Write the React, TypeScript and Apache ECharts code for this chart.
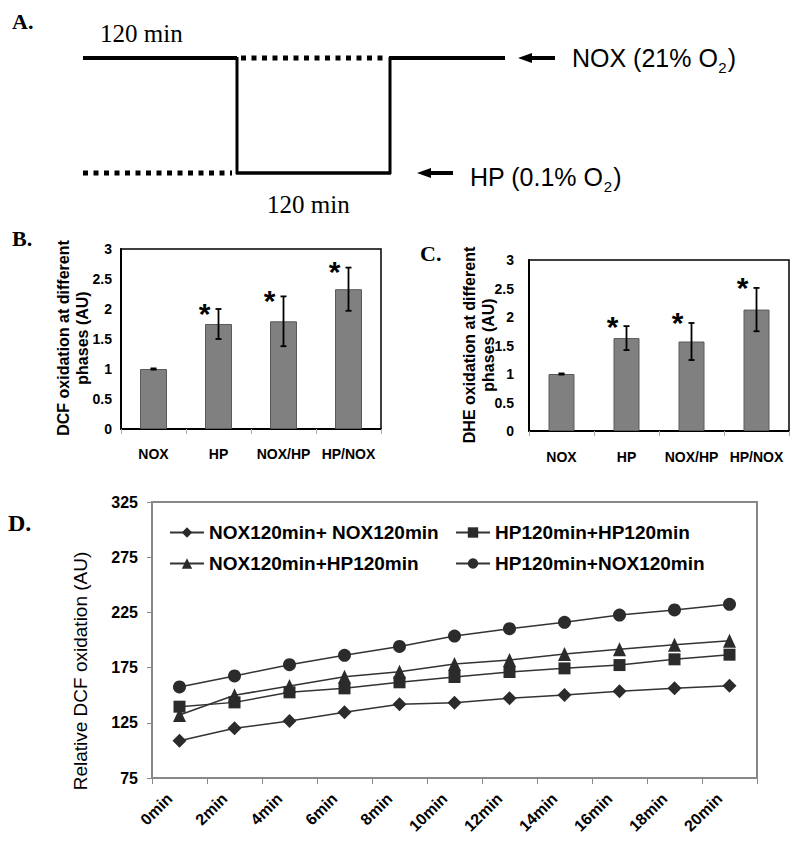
import React, { useEffect, useRef } from "react";
import * as echarts from "echarts";

// ---------- data ----------
const phaseCategories = ["NOX", "HP", "NOX/HP", "HP/NOX"];
const dcfMeans = [1.0, 1.75, 1.795, 2.33];
const dcfErrors = [0.01, 0.25, 0.415, 0.36];
const dheMeans = [1.0, 1.63, 1.57, 2.13];
const dheErrors = [0.01, 0.21, 0.325, 0.38];
const significant = [false, true, true, true];

const timeCategories = ["0min", "2min", "4min", "6min", "8min", "10min", "12min", "14min", "16min", "18min", "20min"];
const seriesNames = ["NOX120min+ NOX120min", "HP120min+HP120min", "NOX120min+HP120min", "HP120min+NOX120min"];
const noxNox = [108.7, 120, 126.6, 134.5, 141.8, 143.2, 147.2, 150.2, 153.5, 156.2, 158.6];
const hpHp = [139.6, 143.5, 152.6, 156.2, 161.7, 166.5, 171, 174.3, 177.3, 182.5, 186.7];
const noxHp = [132, 150, 158.3, 166.8, 171.3, 178.3, 181.9, 187.3, 191.6, 195.8, 199.4];
const hpNox = [157.5, 167.4, 177.6, 186.1, 194.2, 203.6, 210.2, 216, 222.6, 227.2, 232.3];

const SANS = '"Liberation Sans", Arial, sans-serif';
const SERIF = '"Liberation Serif", "Times New Roman", serif';

function measure(text: string, font: string): number {
  const c = document.createElement("canvas");
  const ctx = c.getContext("2d");
  if (!ctx) return text.length * 12;
  ctx.font = font;
  return ctx.measureText(text).width;
}

function txt(x: number, y: number, text: string, opts: any = {}) {
  return {
    type: "text",
    x,
    y,
    rotation: opts.rotation || 0,
    z: 100,
    style: {
      text,
      x: 0,
      y: 0,
      fontSize: opts.fontSize || 14,
      fontWeight: opts.fontWeight || "normal",
      fontFamily: opts.fontFamily || SANS,
      fill: "#000",
      align: opts.align || "left",
      textAlign: opts.align || "left",
      verticalAlign: "middle",
      textVerticalAlign: "middle",
      lineHeight: opts.lineHeight,
    },
  };
}

function seg(x1: number, y1: number, x2: number, y2: number, lw: number, dash?: number[]) {
  return {
    type: "line",
    z: 100,
    shape: { x1, y1, x2, y2 },
    style: { stroke: "#000", lineWidth: lw, lineDash: dash || null, lineCap: "butt" },
  };
}

function subLabel(x: number, y: number, main: string, sub: string, tail: string) {
  const f1 = `25px ${SANS}`;
  const f2 = `15px ${SANS}`;
  const w1 = measure(main, f1);
  const w2 = measure(sub, f2);
  return [
    txt(x, y, main, { fontSize: 25 }),
    txt(x + w1 + 0.5, y + 9, sub, { fontSize: 15 }),
    txt(x + w1 + w2 + 1.5, y, tail, { fontSize: 25 }),
  ];
}

function errorSeries(idx: number, means: number[], errs: number[], starDy: number) {
  return {
    type: "custom",
    xAxisIndex: idx,
    yAxisIndex: idx,
    z: 10,
    silent: true,
    data: means.map((m, i) => [i, m - errs[i], m + errs[i], significant[i] ? 1 : 0]),
    encode: { x: 0, y: [1, 2] },
    renderItem: (params: any, api: any) => {
      const xi = api.value(0);
      const lo = api.coord([xi, api.value(1)]);
      const hi = api.coord([xi, api.value(2)]);
      const cap = 3;
      const children: any[] = [
        { type: "line", shape: { x1: lo[0], y1: lo[1], x2: hi[0], y2: hi[1] }, style: { stroke: "#000", lineWidth: 1.8 } },
        { type: "line", shape: { x1: lo[0] - cap, y1: lo[1], x2: lo[0] + cap, y2: lo[1] }, style: { stroke: "#000", lineWidth: 1.8 } },
        { type: "line", shape: { x1: hi[0] - cap, y1: hi[1], x2: hi[0] + cap, y2: hi[1] }, style: { stroke: "#000", lineWidth: 1.8 } },
      ];
      if (api.value(3)) {
        children.push({
          type: "text",
          style: {
            text: "*",
            x: hi[0] - 14,
            y: hi[1] + starDy,
            fontSize: 30,
            fontWeight: "bold",
            fontFamily: SANS,
            fill: "#000",
            align: "center",
            verticalAlign: "middle",
          },
        });
      }
      return { type: "group", children };
    },
  };
}

function barAxes(idx: number, labelMargin: number, yMargin: number) {
  const x = {
    type: "category",
    gridIndex: idx,
    data: phaseCategories,
    axisLine: { show: true, lineStyle: { color: "#000", width: 2 } },
    axisTick: { show: true, length: 5, lineStyle: { color: "#aaa", width: 1 } },
    axisLabel: {
      interval: 0, hideOverlap: false, margin: labelMargin, fontSize: 14, fontWeight: "bold", color: "#000", fontFamily: SANS,
    },
    splitLine: { show: false },
  };
  const y = {
    type: "value",
    gridIndex: idx,
    min: 0,
    max: 3,
    interval: 0.5,
    axisLine: { show: true, lineStyle: { color: "#000", width: 2 } },
    axisTick: { show: false },
    splitLine: { show: false },
    axisLabel: { margin: yMargin, fontSize: 14, fontWeight: "bold", color: "#000", fontFamily: SANS },
  };
  return { x, y };
}

export default function App() {
  const ref = useRef<HTMLDivElement>(null);

  useEffect(() => {
    if (!ref.current) return;
    const chart = echarts.init(ref.current, null, { renderer: "svg" });

    const bAx = barAxes(0, 18, 9);
    const cAx = barAxes(1, 19, 15);

    const lineColor = "#2b2b2b";
    const mk = (name: string, data: number[], symbol: string, size: any) => ({
      type: "line",
      name,
      xAxisIndex: 2,
      yAxisIndex: 2,
      data,
      symbol,
      symbolSize: size,
      itemStyle: { color: lineColor },
      lineStyle: { color: "#333", width: 1.5 },
      z: 5,
    });

    const legendBase = {
      padding: 0,
      itemWidth: 34,
      itemHeight: 13,
      itemGap: 0,
      selectedMode: false,
      textStyle: { fontSize: 19, fontWeight: "bold", color: "#000", fontFamily: SANS, padding: [0, 0, 0, 0] },
    };

    const graphics: any[] = [
      // panel A diagram
      seg(83, 58, 237, 58, 4),
      seg(241, 58, 386, 58, 5, [5, 5.5]),
      seg(389, 58, 505, 58, 4),
      seg(237, 57, 237, 174, 3),
      seg(390, 57, 390, 174, 3),
      seg(83, 173, 232, 173, 5, [5, 5.5]),
      seg(236, 173, 391, 173, 3.5),
      // arrows
      { type: "polygon", z: 100, shape: { points: [[518, 58], [532, 53], [532, 63]] }, style: { fill: "#000" } },
      seg(530, 58, 555, 58, 4),
      { type: "polygon", z: 100, shape: { points: [[417, 173], [431, 168], [431, 178]] }, style: { fill: "#000" } },
      seg(429, 173, 453, 173, 4),
      ...subLabel(572, 58, "NOX (21% O", "2", ")"),
      ...subLabel(470, 177, "HP (0.1% O", "2", ")"),
      txt(100, 33, "120 min", { fontSize: 25, fontFamily: SERIF }),
      txt(267, 204, "120 min", { fontSize: 25, fontFamily: SERIF }),
      // panel letters
      txt(12, 21, "A.", { fontSize: 22, fontWeight: "bold", fontFamily: SERIF }),
      txt(12, 238, "B.", { fontSize: 22, fontWeight: "bold", fontFamily: SERIF }),
      txt(420, 253, "C.", { fontSize: 22, fontWeight: "bold", fontFamily: SERIF }),
      txt(8, 523, "D.", { fontSize: 24, fontWeight: "bold", fontFamily: SERIF }),
      // axis names
      txt(72.5, 338, "DCF oxidation at different\nphases (AU)", {
        fontSize: 16, fontWeight: "bold", align: "center", rotation: Math.PI / 2, lineHeight: 19,
      }),
      txt(479, 345, "DHE oxidation at different\nphases (AU)", {
        fontSize: 16, fontWeight: "bold", align: "center", rotation: Math.PI / 2, lineHeight: 19,
      }),
      txt(80, 671, "Relative DCF oxidation (AU)", { fontSize: 19, align: "center", rotation: Math.PI / 2 }),
    ];

    chart.setOption({
      animation: false,
      backgroundColor: "#fff",
      grid: [
        { left: 121, top: 249, width: 260, height: 180, show: true, borderColor: "#000", borderWidth: 1.5, backgroundColor: "transparent" },
        { left: 529, top: 260, width: 260, height: 171, show: true, borderColor: "#000", borderWidth: 1.5, backgroundColor: "transparent" },
        { left: 152, top: 502, width: 605, height: 276, show: true, borderColor: "#888", borderWidth: 2, backgroundColor: "transparent" },
      ],
      xAxis: [
        bAx.x,
        cAx.x,
        {
          type: "category",
          gridIndex: 2,
          data: timeCategories,
          axisLine: { show: true, lineStyle: { color: "#888", width: 2 } },
          axisTick: { show: true, length: 6, lineStyle: { color: "#888", width: 1 } },
          axisLabel: {
            rotate: 45, margin: 8, interval: 0,
            formatter: (v: string) => `{t|${v}}`,
            rich: {
              t: { fontSize: 16, fontWeight: "bold", color: "#000", fontFamily: SANS, padding: [0, 14, 0, 0] },
            },
          },
          splitLine: { show: false },
        },
      ],
      yAxis: [
        bAx.y,
        cAx.y,
        {
          type: "value",
          gridIndex: 2,
          min: 75,
          max: 325,
          interval: 50,
          axisLine: { show: true, lineStyle: { color: "#888", width: 2 } },
          axisTick: { show: true, length: 5, lineStyle: { color: "#888", width: 1 } },
          splitLine: { show: false },
          axisLabel: { margin: 14, fontSize: 16, fontWeight: "bold", color: "#000", fontFamily: SANS },
        },
      ],
      legend: [
        { ...legendBase, data: [seriesNames[0]], left: 169, top: 523 },
        { ...legendBase, data: [seriesNames[1]], left: 455, top: 523 },
        { ...legendBase, data: [seriesNames[2]], left: 169, top: 554 },
        { ...legendBase, data: [seriesNames[3]], left: 455, top: 554 },
      ],
      graphic: graphics,
      series: [
        {
          type: "bar",
          xAxisIndex: 0,
          yAxisIndex: 0,
          data: dcfMeans,
          barWidth: 27,
          itemStyle: { color: "#808080", borderColor: "#5a5a5a", borderWidth: 1 },
        },
        errorSeries(0, dcfMeans, dcfErrors, 4),
        {
          type: "bar",
          xAxisIndex: 1,
          yAxisIndex: 1,
          data: dheMeans,
          barWidth: 26,
          itemStyle: { color: "#808080", borderColor: "#5a5a5a", borderWidth: 1 },
        },
        errorSeries(1, dheMeans, dheErrors, 0),
        mk(seriesNames[0], noxNox, "diamond", 14),
        mk(seriesNames[1], hpHp, "rect", 12),
        mk(seriesNames[2], noxHp, "triangle", [13, 14]),
        mk(seriesNames[3], hpNox, "circle", 13),
      ],
    });

    return () => chart.dispose();
  }, []);

  return <div ref={ref} style={{ position: "absolute", left: 0, top: 0, width: 800, height: 850 }} />;
}
